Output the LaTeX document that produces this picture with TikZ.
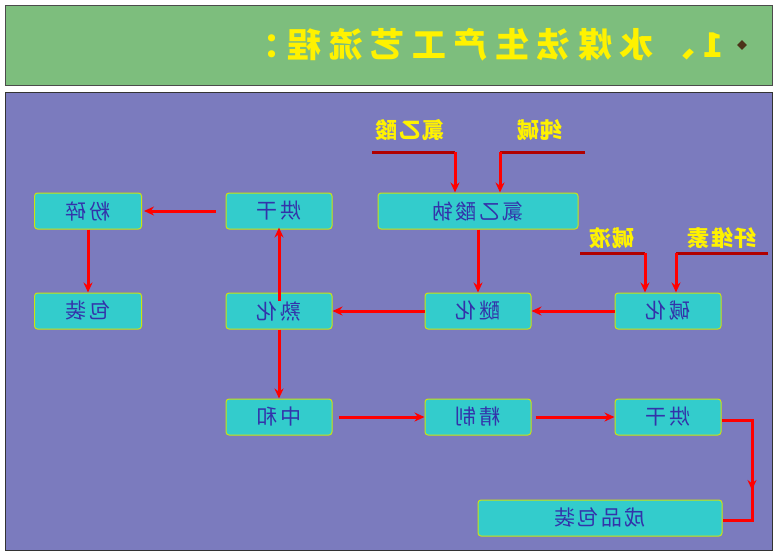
\documentclass[tikz,border=0pt]{standalone}
\usepackage{graphicx}
\usepackage{fontspec}
\setmainfont{Noto Sans CJK SC}
\usetikzlibrary{arrows.meta,shapes.geometric}
\definecolor{tgreen}{HTML}{7DBE7D}
\definecolor{bgblue}{HTML}{7B7BBE}
\definecolor{boxc}{HTML}{33CCCC}
\definecolor{txt}{HTML}{3333AA}
\definecolor{dred}{HTML}{B00000}
\begin{document}
\begin{tikzpicture}[x=1pt,y=-1pt,
  box/.style={draw=yellow!80!green, line width=1pt, fill=boxc, rounded corners=3pt, minimum height=36pt, text=txt, font=\fontsize{21}{21}\selectfont\addfontfeature{LetterSpace=10}, inner sep=0pt},
  lab/.style={text=yellow, font=\bfseries\fontsize{22}{22}\selectfont\addfontfeature{LetterSpace=8}},
  arr/.style={draw=red, line width=3pt, -{Stealth[length=10pt,width=9pt]}},
  feed/.style={draw=dred, line width=3pt},
  feedarr/.style={draw=red, line width=3pt, -{Stealth[length=10pt,width=9pt]}}]
\useasboundingbox (0,0) rectangle (777,555);
\fill[white] (0,0) rectangle (777,555);
\node[draw=black!70, fill=tgreen, minimum width=767pt, minimum height=80pt, anchor=north west, inner sep=0pt] (title) at (5,5) {};
\node[diamond, fill=black!60!brown, minimum size=10pt, inner sep=0pt] (bul) at (742,45) {};
\node[anchor=east, text=yellow, font=\bfseries\fontsize{34}{34}\selectfont\addfontfeature{LetterSpace=22}] (tt) at (727,45) {\reflectbox{1、水煤法生产工艺流程：}};
\node[draw=black!80, fill=bgblue, minimum width=767pt, minimum height=458pt, anchor=north west, inner sep=0pt] (main) at (5,92) {};

\node[box, minimum width=107pt] (fs) at (88,211) {\reflectbox{粉碎}};
\node[box, minimum width=106pt] (hg1) at (279,211) {\reflectbox{烘干}};
\node[box, minimum width=200pt] (lys) at (478,211) {\reflectbox{氯乙酸钠}};
\node[box, minimum width=107pt] (bz) at (88,311) {\reflectbox{包装}};
\node[box, minimum width=106pt] (sh) at (279,311) {\reflectbox{熟化}};
\node[box, minimum width=106pt] (mh) at (478,311) {\reflectbox{醚化}};
\node[box, minimum width=106pt] (jh) at (668,311) {\reflectbox{碱化}};
\node[box, minimum width=106pt] (zh) at (279,417) {\reflectbox{中和}};
\node[box, minimum width=106pt] (jz) at (478,417) {\reflectbox{精制}};
\node[box, minimum width=106pt] (hg2) at (668,417) {\reflectbox{烘干}};
\node[box, minimum width=244pt] (cp) at (600,518) {\reflectbox{成品包装}};

\node[lab] (l1) at (410,130) {\reflectbox{氯乙酸}};
\node[lab] (l2) at (540,130) {\reflectbox{纯碱}};
\node[lab] (l3) at (612,238) {\reflectbox{碱液}};
\node[lab] (l4) at (722,238) {\reflectbox{纤维素}};

\coordinate (a1) at (372,152); \coordinate (a2) at (455,152);
\coordinate (b1) at (585,152); \coordinate (b2) at (500,152);
\coordinate (c1) at (580,253); \coordinate (c2) at (645,253);
\coordinate (d1) at (768,253); \coordinate (d2) at (676,253);
\draw[feed] (a1) -- (a2); \draw[feedarr] (a2) -- (a2 |- lys.north);
\draw[feed] (b1) -- (b2); \draw[feedarr] (b2) -- (b2 |- lys.north);
\draw[feed] (c1) -- (c2); \draw[feedarr] (c2) -- (c2 |- jh.north);
\draw[feed] (d1) -- (d2); \draw[feedarr] (d2) -- (d2 |- jh.north);

\draw[arr] ([xshift=-10pt]hg1.west) -- ([xshift=2pt]fs.east);
\draw[arr] (fs) -- (bz);
\draw[arr] (lys) -- (mh);
\draw[arr] (jh) -- (mh);
\draw[arr] (mh) -- (sh);
\draw[arr] ([yshift=-8pt]sh.north) -- ([yshift=2pt]hg1.south);
\draw[arr] (sh) -- (zh);
\draw[arr] ([xshift=6pt]zh.east) -- (jz);
\draw[arr] ([xshift=4pt]jz.east) -- (hg2);
\coordinate (e1) at (752,420); \coordinate (e2) at (752,490); \coordinate (e3) at (752,520);
\draw[draw=red, line width=3pt] (hg2.east |- e1) -- (e1) -- (e2);
\draw[arr] (e1) -- (e2);
\draw[draw=red, line width=3pt] (e2) -- (e3) -- (cp.east |- e3);
\end{tikzpicture}
\end{document}
